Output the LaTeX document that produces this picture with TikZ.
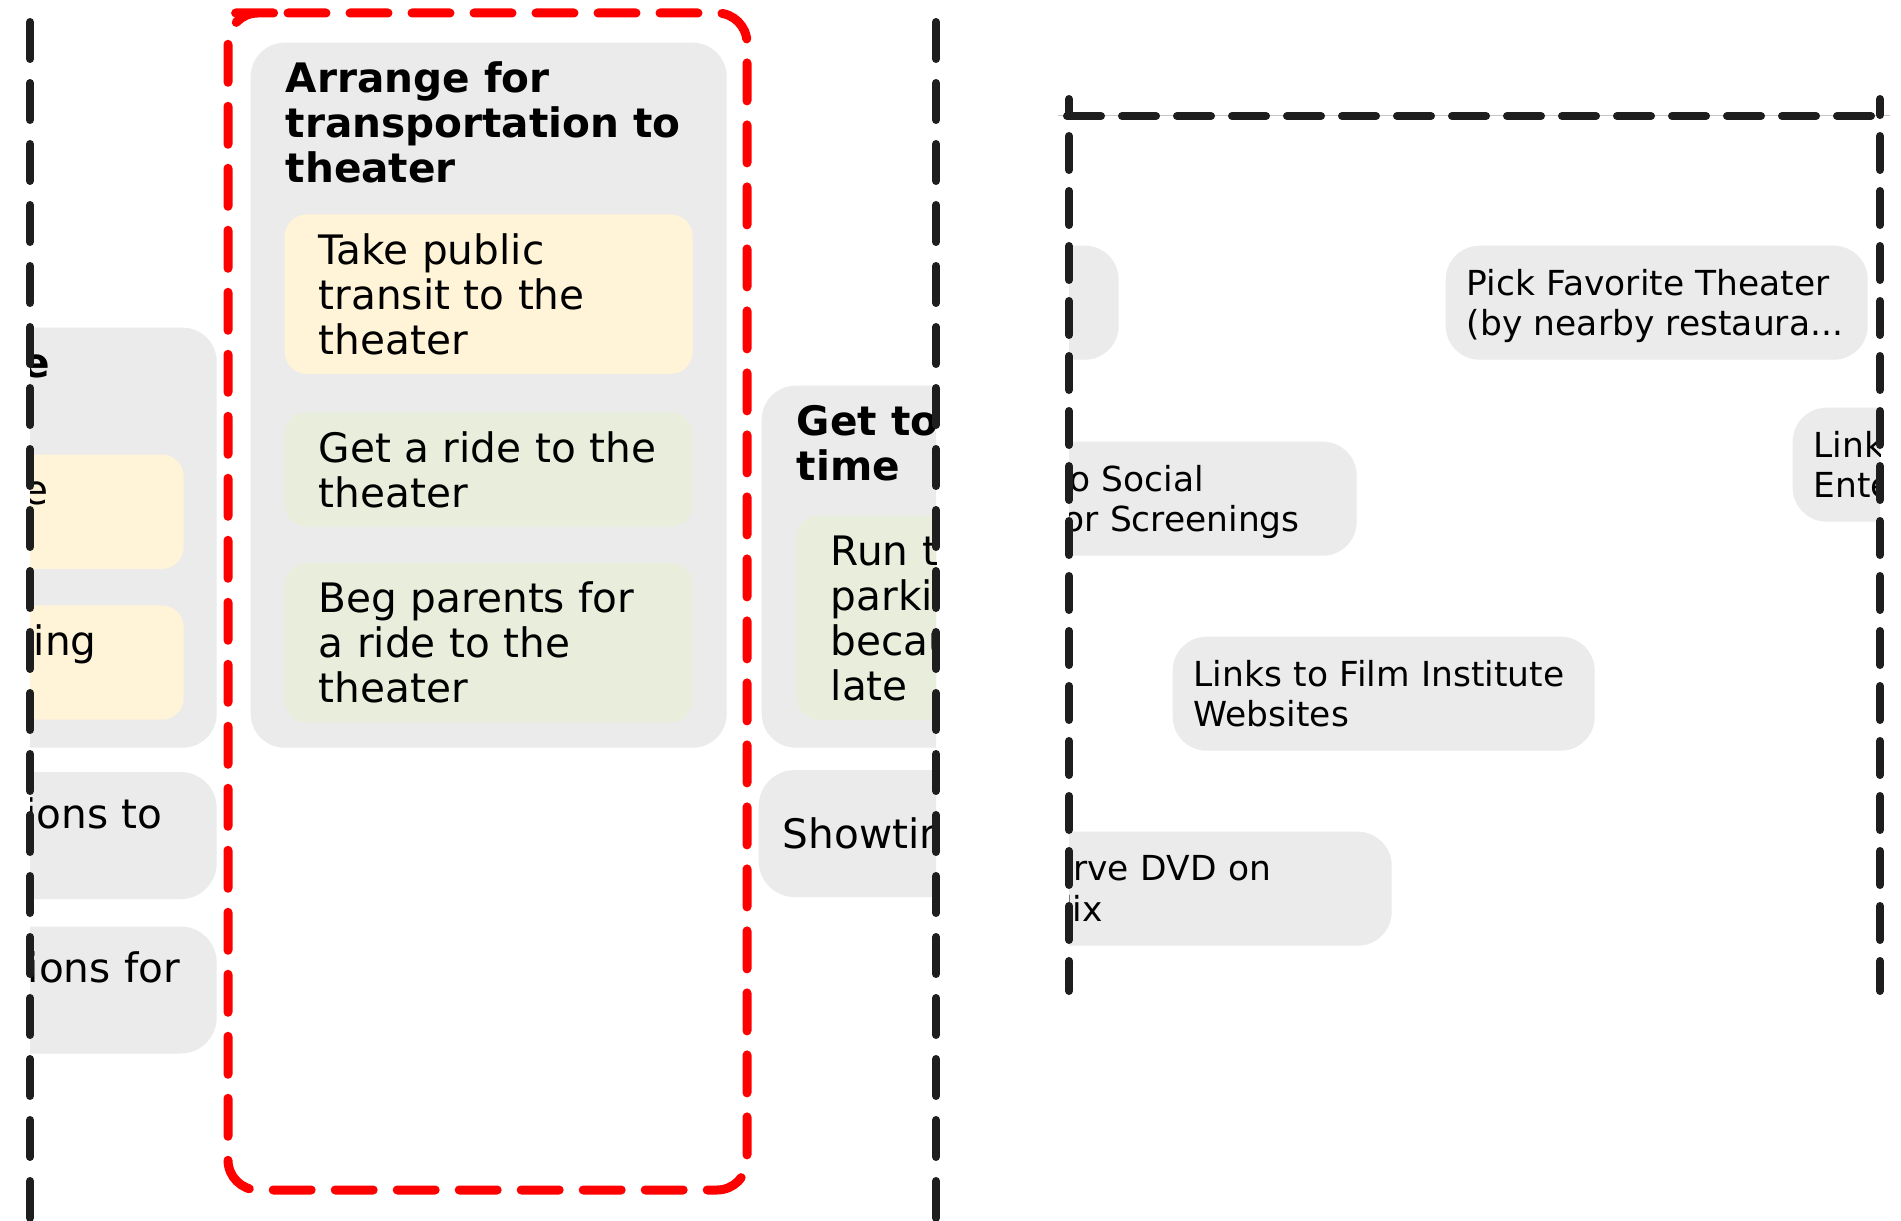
\documentclass[tikz,border=0pt]{standalone}
\usepackage{fontspec}
\setmainfont{DejaVu Sans}
\usetikzlibrary{positioning}

\definecolor{cardgray}{RGB}{235,235,235}
\definecolor{cardyellow}{RGB}{255,244,215}
\definecolor{cardgreen}{RGB}{233,237,220}
\definecolor{ink}{RGB}{30,30,30}

\begin{document}
\begin{tikzpicture}[
  x=0.1mm, y=-0.1mm,
  col/.style={anchor=north west, fill=cardgray, rounded corners=3.4mm,
              minimum width=47.6mm, inner sep=0pt},
  coltitle/.style={anchor=north west, inner sep=0pt, align=left,
              font=\fontsize{11.55pt}{12.8pt}\selectfont\bfseries},
  card/.style={rounded corners=2.2mm, align=left, text width=34mm,
              inner xsep=3.4mm, inner ysep=1.9mm,
              font=\fontsize{11.55pt}{12.8pt}\selectfont},
  yel/.style={card, fill=cardyellow},
  grn/.style={card, fill=cardgreen},
  item/.style={fill=cardgray, rounded corners=3.6mm, align=left,
              text width=42.8mm, inner xsep=2.4mm, inner ysep=2.5mm,
              minimum height=12.7mm, font=\fontsize{11.55pt}{12.8pt}\selectfont},
  rbox/.style={anchor=north west, fill=cardgray, rounded corners=3.4mm,
              align=left, text width=38mm, inner xsep=2.1mm, inner ysep=2mm,
              minimum height=11.4mm, font=\fontsize{9.8pt}{11.4pt}\selectfont},
  frame/.style={draw=ink, line width=0.8mm, line cap=round,
              dash pattern=on 3.7mm off 2.4mm},
  sframe/.style={draw=ink, line width=0.8mm, line cap=round,
              dash pattern=on 3.4mm off 2.1mm},
  selection/.style={draw=red, line width=0.9mm, line cap=round,
              dash pattern=on 3.8mm off 2.4mm, rounded corners=3mm},
]
\useasboundingbox (0,0) rectangle (1901,1221);
\fill[white] (0,0) rectangle (1901,1221);

\begin{scope}
\clip (30,0) rectangle (936,1221);
\node[col, minimum height=42mm] (buy) at (-260,327) {};
\node[coltitle, below right=1.9mm and 3.5mm of buy.north west] (tBuy) {Get a movie\\ticket};
\node[yel, below right=3mm and 0mm of tBuy.south west] (online) {Book online\\in advance};
\node[yel, below=3.5mm of online] (phone) {Buy by calling\\ahead};
\node[item, below=2.3mm of buy, text width=42.2mm, xshift=0.3mm] (directions)
  {Check directions to\\the theater};
\node[item, below=2.6mm of directions, text width=42.2mm] (dinner) {Find suggestions for\\dinner};

\node[col, minimum height=70.5mm] (arrange) at (250,42) {};
\node[coltitle, below right=1.9mm and 3.5mm of arrange.north west] (tArrange)
  {Arrange for\\transportation to\\theater};
\node[yel, below right=3mm and -0.1mm of tArrange.south west] (transit)
  {Take public\\transit to the\\theater};
\node[grn, below=3.7mm of transit] (ride) {Get a ride to the\\theater};
\node[grn, below=3.5mm of ride] (beg) {Beg parents for\\a ride to the\\theater};

\node[col, minimum height=36.2mm] (arrive) at (761,385) {};
\node[coltitle, below right=1.9mm and 3.5mm of arrive.north west] (tArrive) {Get to theater on\\time};
\node[grn, below right=3.3mm and 0mm of tArrive.south west] (run)
  {Run to the\\parking lot\\because we're\\late};
\node[item, below=2.1mm of arrive, xshift=-0.3mm] (showtimes) {Showtimes};

\draw[selection] (258,13) -- (747,13) -- (747,1190) -- (228,1190) -- (228,13) -- cycle;
\end{scope}
\draw[frame] (30,22) -- (30,1221);
\draw[frame] (936,22) -- (936,1221);

\begin{scope}
\clip (1069,116) rectangle (1880,995);
\node[rbox] (r0) at (696,245) {};
\node[rbox] (favorite) at (1445,245) {Pick Favorite Theater\\\smash{(by nearby restaura...}};
\node[rbox] (entertain) at (1792,407) {Links to\\Entertainment News};
\node[rbox] (social) at (934,441) {Links to Social\\\smash{Sites for Screenings}};
\node[rbox] (film) at (1172,636) {Links to Film Institute\\Websites};
\node[rbox] (netflix) at (969,831) {Reserve DVD on\\Netflix};
\end{scope}
\draw[gray!45, line width=0.1mm] (1058,116) -- (1890,116);
\draw[sframe] (1067,116) -- (1882,116);
\draw[sframe, dash phase=1.8mm] (1069,99) -- (1069,991);
\draw[sframe, dash phase=1.8mm] (1880,99) -- (1880,991);
\end{tikzpicture}
\end{document}
